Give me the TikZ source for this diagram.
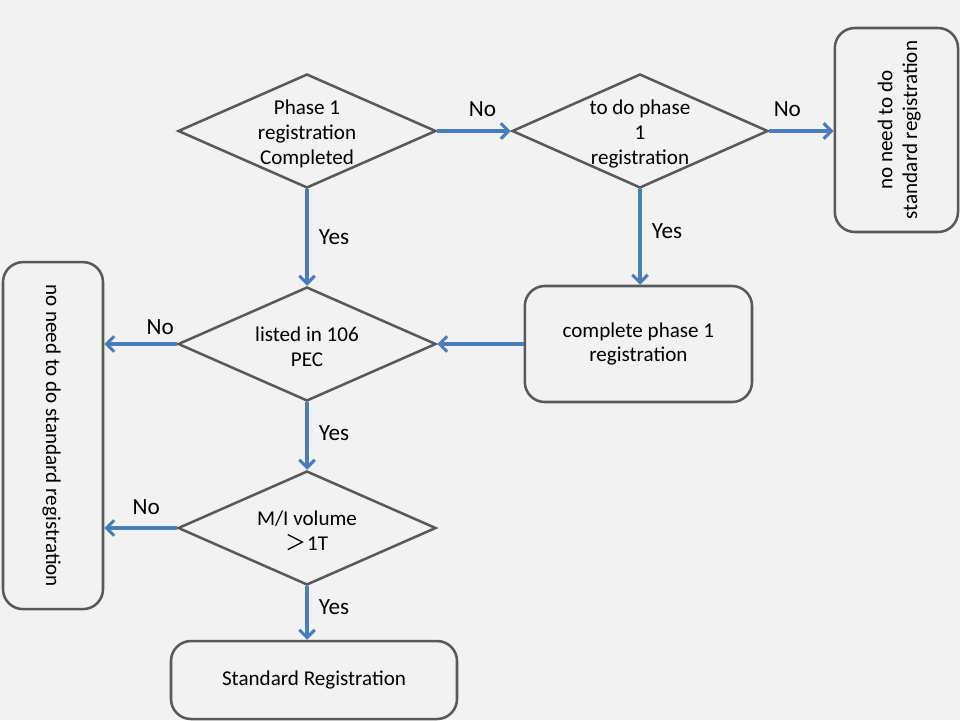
\documentclass[tikz,border=0pt]{standalone}
\usepackage{fontspec}
\setmainfont{Carlito}
\newfontfamily\cjk{Noto Sans CJK SC}
\usetikzlibrary{shapes.geometric, arrows.meta, positioning}

\definecolor{fondo}{HTML}{F2F2F2}
\definecolor{borde}{HTML}{595959}
\definecolor{flecha}{HTML}{4A7EBB}

\begin{document}
\begin{tikzpicture}[
    decision/.style = {diamond, draw=borde, line width=1.8pt, fill=fondo, inner sep=0pt,
                       minimum width=6.45cm, minimum height=2.85cm},
    txtv/.style     = {align=center, font=\fontsize{15}{17.7}\selectfont},
    txt/.style      = {txtv, yshift=-2pt},
    caja/.style     = {draw=borde, line width=1.8pt, fill=fondo, rounded corners=0.5cm,
                       align=center, font=\fontsize{15}{17.7}\selectfont},
    arr/.style      = {-{Straight Barb[length=5.5pt, width=11pt]}, line width=2.2pt, flecha},
    resp/.style     = {font=\fontsize{16.5}{19}\selectfont, black},
]

% --- Fondo ---
\fill[fondo] (0,0) rectangle (24,-18);
\useasboundingbox (0,0) rectangle (24,-18);

% --- Decisiones ---
\node[decision] (fase1)   at (7.675,-3.275) {};
\node[txt]      (fase1t)  at (fase1)  {Phase 1\\registration\\Completed};
\node[decision, minimum width=6.4cm] (hacer) at (16.0,-3.275) {};
\node[txt]      (hacert)  at (hacer)  {to do phase\\1\\registration};
\node[decision] (lista)   at (7.675,-8.6) {};
\node[txt]      (listat)  at (lista)  {listed in 106\\PEC};
\node[decision] (volumen) at (7.675,-13.2) {};
\node[txt]      (volument) at (volumen) {M/I volume\\{\cjk ＞}1T};

% --- Cajas ---
\node[caja, minimum width=3.08cm, minimum height=5.1cm] (noder) at (22.41,-3.25) {};
\node[txtv, rotate=90] (nodert) at ([xshift=2pt]noder.center) {no need to do\\standard registration};
\node[caja, minimum width=5.68cm, minimum height=2.9cm] (completa) at (15.96,-8.6)
    {complete phase 1\\registration};
\node[caja, minimum width=2.5cm, minimum height=8.675cm] (nodei) at (1.325,-10.89) {};
\node[txtv, rotate=-90] (nodeit) at ([xshift=-1pt]nodei.center) {no need to do standard registration};
\node[caja, minimum width=7.15cm, minimum height=1.95cm] (estandar) at (7.85,-17.0)
    {Standard Registration};

% --- Flechas ---
\draw[arr] (fase1.east) -- node[resp, above=6pt, xshift=6pt] {No} (hacer.west);
\draw[arr] (hacer.east) -- node[resp, above=6pt, xshift=-10pt] {No} (hacer.east -| noder.west);
\draw[arr] (fase1.south) -- node[resp, right=4pt] {Yes} (lista.north);
\draw[arr] (hacer.south) -- node[resp, right=4pt, yshift=4pt] {Yes} (hacer.south |- completa.north);
\draw[arr] (completa.west) -- (lista.east);
\draw[arr] (lista.west) -- node[resp, above=2pt, xshift=14pt] {No} (lista.west -| nodei.east);
\draw[arr] (lista.south) -- node[resp, right=4pt, yshift=2pt] {Yes} (volumen.north);
\draw[arr] (volumen.west) -- node[resp, above=5pt, xshift=4pt] {No} (volumen.west -| nodei.east);
\draw[arr] (volumen.south) -- node[resp, right=4pt, yshift=4pt] {Yes} (volumen.south |- estandar.north);

\end{tikzpicture}
\end{document}
